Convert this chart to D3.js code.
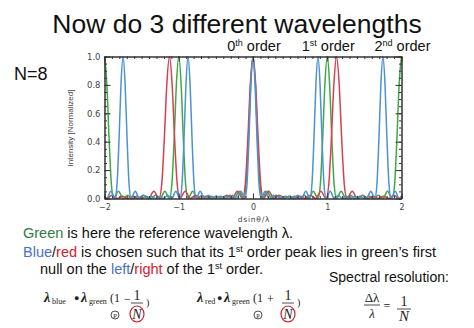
<!DOCTYPE html>
<html><head><meta charset="utf-8">
<script src="https://cdn.jsdelivr.net/npm/d3@7"></script>
<style>body{margin:0;background:#fff}svg{display:block}</style>
</head><body>
<svg id="c" width="474" height="328"></svg>
<script>
// ---- data ----
const xTicks = [-2, -1, 0, 1, 2];
const yTicks = [0, 0.2, 0.4, 0.6, 0.8, 1.0];
const orderLabels = [{x: 0, b: "0", s: "th"}, {x: 1, b: "1", s: "st"}, {x: 2, b: "2", s: "nd"}];

const greenPts = [
[-2,1],[-1.96875,.81],[-1.9375,.41],[-1.90625,.093],[-1.875,0],[-1.8125,.051],[-1.75,0],[-1.6875,.023],[-1.625,0],[-1.5625,.016],[-1.5,0],[-1.4375,.016],[-1.375,0],[-1.3125,.023],[-1.25,0],[-1.1875,.051],[-1.125,0],[-1.09375,.093],[-1.0625,.41],[-1.03125,.81],
[-1,1],[-0.96875,.81],[-0.9375,.41],[-0.90625,.093],[-0.875,0],[-0.8125,.051],[-0.75,0],[-0.6875,.023],[-0.625,0],[-0.5625,.016],[-0.5,0],[-0.4375,.016],[-0.375,0],[-0.3125,.023],[-0.25,0],[-0.1875,.051],[-0.125,0],[-0.09375,.093],[-0.0625,.41],[-0.03125,.81],
[0,1],[0.03125,.81],[0.0625,.41],[0.09375,.093],[0.125,0],[0.1875,.051],[0.25,0],[0.3125,.023],[0.375,0],[0.4375,.016],[0.5,0],[0.5625,.016],[0.625,0],[0.6875,.023],[0.75,0],[0.8125,.051],[0.875,0],[0.90625,.093],[0.9375,.41],[0.96875,.81],
[1,1],[1.03125,.81],[1.0625,.41],[1.09375,.093],[1.125,0],[1.1875,.051],[1.25,0],[1.3125,.023],[1.375,0],[1.4375,.016],[1.5,0],[1.5625,.016],[1.625,0],[1.6875,.023],[1.75,0],[1.8125,.051],[1.875,0],[1.90625,.093],[1.9375,.41],[1.96875,.81],
[2,1]];

const bluePts = [
[-2,.016],[-1.96875,0],[-1.91406,.051],[-1.85938,0],[-1.83203,.093],[-1.80469,.41],[-1.77734,.81],
[-1.75,1],[-1.72266,.81],[-1.69531,.41],[-1.66797,.093],[-1.64063,0],[-1.58594,.051],[-1.53125,0],[-1.47656,.023],[-1.42188,0],[-1.36719,.016],[-1.3125,0],[-1.25781,.016],[-1.20313,0],[-1.14844,.023],[-1.09375,0],[-1.03906,.051],[-0.98438,0],[-0.95703,.093],[-0.92969,.41],[-0.90234,.81],
[-0.875,1],[-0.84766,.81],[-0.82031,.41],[-0.79297,.093],[-0.76563,0],[-0.71094,.051],[-0.65625,0],[-0.60156,.023],[-0.54688,0],[-0.49219,.016],[-0.4375,0],[-0.38281,.016],[-0.32813,0],[-0.27344,.023],[-0.21875,0],[-0.16406,.051],[-0.10938,0],[-0.08203,.093],[-0.05469,.41],[-0.02734,.81],
[0,1],[0.02734,.81],[0.05469,.41],[0.08203,.093],[0.10938,0],[0.16406,.051],[0.21875,0],[0.27344,.023],[0.32813,0],[0.38281,.016],[0.4375,0],[0.49219,.016],[0.54688,0],[0.60156,.023],[0.65625,0],[0.71094,.051],[0.76563,0],[0.79297,.093],[0.82031,.41],[0.84766,.81],
[0.875,1],[0.90234,.81],[0.92969,.41],[0.95703,.093],[0.98438,0],[1.03906,.051],[1.09375,0],[1.14844,.023],[1.20313,0],[1.25781,.016],[1.3125,0],[1.36719,.016],[1.42188,0],[1.47656,.023],[1.53125,0],[1.58594,.051],[1.64063,0],[1.66797,.093],[1.69531,.41],[1.72266,.81],
[1.75,1],[1.77734,.81],[1.80469,.41],[1.83203,.093],[1.85938,0],[1.91406,.051],[1.96875,0],[2,.016]];

const redPts = [
[-2,.016],[-1.96875,0],[-1.89844,.023],[-1.82813,0],[-1.75781,.016],[-1.6875,0],[-1.61719,.016],[-1.54688,0],[-1.47656,.023],[-1.40625,0],[-1.33594,.051],[-1.26563,0],[-1.23047,.093],[-1.19531,.41],[-1.16016,.81],
[-1.125,1],[-1.08984,.81],[-1.05469,.41],[-1.01953,.093],[-0.98438,0],[-0.91406,.051],[-0.84375,0],[-0.77344,.023],[-0.70313,0],[-0.63281,.016],[-0.5625,0],[-0.49219,.016],[-0.42188,0],[-0.35156,.023],[-0.28125,0],[-0.21094,.051],[-0.14063,0],[-0.10547,.093],[-0.07031,.41],[-0.03516,.81],
[0,1],[0.03516,.81],[0.07031,.41],[0.10547,.093],[0.14063,0],[0.21094,.051],[0.28125,0],[0.35156,.023],[0.42188,0],[0.49219,.016],[0.5625,0],[0.63281,.016],[0.70313,0],[0.77344,.023],[0.84375,0],[0.91406,.051],[0.98438,0],[1.01953,.093],[1.05469,.41],[1.08984,.81],
[1.125,1],[1.16016,.81],[1.19531,.41],[1.23047,.093],[1.26563,0],[1.33594,.051],[1.40625,0],[1.47656,.023],[1.54688,0],[1.61719,.016],[1.6875,0],[1.75781,.016],[1.82813,0],[1.89844,.023],[1.96875,0],[2,.016]];

const seriesList = [
  {name: "green", pts: greenPts, color: "#3fa845"},
  {name: "red", pts: redPts, color: "#d8404e"},
  {name: "blue", pts: bluePts, color: "#4b92d6"}
];

// ---- drawing ----
const svg = d3.select("#c");
const L = 104.5, R = 401.5, T = 56.5, B = 198.5;
const x = d3.scaleLinear().domain([-2, 2]).range([L, R]);
const y = d3.scaleLinear().domain([0, 1]).range([B, T]);
const sans = "Liberation Sans, Arial, sans-serif";

// Title
svg.append("text").attr("x", 237).attr("y", 33).attr("text-anchor", "middle")
  .attr("font-family", sans).attr("font-size", 26.5)
  .attr("fill", "#111").text("Now do 3 different wavelengths");

// order labels
orderLabels.forEach(o => {
  const t = svg.append("text").attr("x", x(o.x) + 1).attr("y", 51).attr("text-anchor", "middle")
    .attr("font-family", sans).attr("font-size", 14.5).attr("fill", "#111");
  t.append("tspan").text(o.b);
  t.append("tspan").attr("font-size", 9).attr("dy", -5).text(o.s);
  t.append("tspan").attr("dy", 5).text(" order");
});

svg.append("text").attr("x", 14).attr("y", 80)
  .attr("font-family", sans).attr("font-size", 18).attr("fill", "#111").text("N=8");

// series
const line = d3.line().x(d => x(d[0])).y(d => y(d[1])).curve(d3.curveMonotoneX);
const plotG = svg.append("g");
seriesList.forEach(s => {
  plotG.append("path").datum(s.pts).attr("d", line).attr("fill", "none")
    .attr("stroke", s.color).attr("stroke-width", 1.5).attr("stroke-linejoin", "round");
});

// axes (IDL style box with inward ticks)
const axCol = "#333";
const tickFont = "DejaVu Sans, sans-serif";
const xMinor = d3.range(-20, 21).map(i => i / 10);
const yMinor = d3.range(0, 21).map(i => i / 20);

function styleAxis(g) {
  g.select(".domain").attr("stroke", axCol).attr("stroke-width", 1);
  g.selectAll(".tick line").attr("stroke", axCol);
  g.selectAll("text").attr("font-family", tickFont).attr("font-size", 8.5).attr("fill", "#444");
}
// bottom
svg.append("g").attr("transform", `translate(0,${B})`)
  .call(d3.axisBottom(x).tickValues(xMinor).tickSize(-2.5).tickFormat("").tickSizeOuter(0)).call(styleAxis);
svg.append("g").attr("transform", `translate(0,${B})`)
  .call(d3.axisBottom(x).tickValues(xTicks).tickSize(-5).tickPadding(6).tickSizeOuter(0)
    .tickFormat(d => d < 0 ? "\u2212" + Math.abs(d) : String(d))).call(styleAxis)
  .selectAll("text").attr("font-size", 8);
// top
svg.append("g").attr("transform", `translate(0,${T})`)
  .call(d3.axisTop(x).tickValues(xMinor).tickSize(-2.5).tickFormat("").tickSizeOuter(0)).call(styleAxis);
svg.append("g").attr("transform", `translate(0,${T})`)
  .call(d3.axisTop(x).tickValues(xTicks).tickSize(-5).tickFormat("").tickSizeOuter(0)).call(styleAxis);
// left
svg.append("g").attr("transform", `translate(${L},0)`)
  .call(d3.axisLeft(y).tickValues(yMinor).tickSize(-2.5).tickFormat("").tickSizeOuter(0)).call(styleAxis);
svg.append("g").attr("transform", `translate(${L},0)`)
  .call(d3.axisLeft(y).tickValues(yTicks).tickSize(-6).tickPadding(4).tickSizeOuter(0)
    .tickFormat(d3.format(".1f"))).call(styleAxis);
// right
svg.append("g").attr("transform", `translate(${R},0)`)
  .call(d3.axisRight(y).tickValues(yMinor).tickSize(-2.5).tickFormat("").tickSizeOuter(0)).call(styleAxis);
svg.append("g").attr("transform", `translate(${R},0)`)
  .call(d3.axisRight(y).tickValues(yTicks).tickSize(-6).tickFormat("").tickSizeOuter(0)).call(styleAxis);

// axis titles
svg.append("text").attr("transform", `translate(73,128) rotate(-90)`).attr("text-anchor", "middle")
  .attr("font-family", sans).attr("font-size", 8).attr("fill", "#444")
  .text("Intensity [Normalized]");
svg.append("text").attr("x", 254).attr("y", 222).attr("text-anchor", "middle")
  .attr("font-family", tickFont).attr("font-size", 7.5).attr("letter-spacing", 0.8).attr("fill", "#444")
  .text("dsin\u03B8/\u03BB");

// explanatory text
function para(xx, yy, parts, size) {
  const t = svg.append("text").attr("x", xx).attr("y", yy).attr("font-family", sans)
    .attr("font-size", size || 14.5).attr("fill", "#111");
  parts.forEach(p => {
    const s = t.append("tspan").text(p.t);
    if (p.c) s.attr("fill", p.c);
    if (p.sup) { s.attr("font-size", 9).attr("dy", -5); }
    if (p.down) s.attr("dy", 5);
  });
  return t;
}
para(23, 238, [{t: "Green", c: "#2f7d3f"}, {t: " is here the reference wavelength \u03BB."}]);
para(23, 257, [{t: "Blue", c: "#4a6fd0"}, {t: "/"}, {t: "red", c: "#d3202e"}, {t: " is chosen such that its 1"}, {t: "st", sup: true}, {t: " order peak lies in green\u2019s first", down: true}]);
para(40, 274, [{t: "null on the "}, {t: "left", c: "#4a6fd0"}, {t: "/"}, {t: "right", c: "#d3202e"}, {t: " of the 1"}, {t: "st", sup: true}, {t: " order.", down: true}]);
para(329, 282, [{t: "Spectral resolution:"}], 14);

// formulas
const ser = "Liberation Serif, DejaVu Serif, serif";
function formula(p) {
  const g = svg.append("g").attr("font-family", ser).attr("fill", "#222");
  g.append("text").attr("x", p.lam1).attr("y", 302).attr("font-size", 14).attr("font-style", "italic").attr("font-weight", "bold").text("\u03BB");
  g.append("text").attr("x", p.lam1 + 8).attr("y", 304).attr("font-size", 8).text(p.sub);
  g.append("text").attr("x", p.dot).attr("y", 301).attr("font-size", 9).text("\u25CF");
  g.append("text").attr("x", p.dot + 7).attr("y", 302).attr("font-size", 14).attr("font-style", "italic").attr("font-weight", "bold").text("\u03BB");
  g.append("text").attr("x", p.dot + 15).attr("y", 304).attr("font-size", 8).text("green");
  g.append("text").attr("x", p.paren).attr("y", 302).attr("font-size", 12).text("(1");
  g.append("circle").attr("cx", p.paren + 5).attr("cy", 315).attr("r", 4).attr("fill", "none").attr("stroke", "#222").attr("stroke-width", 0.8);
  g.append("text").attr("x", p.paren + 5).attr("y", 317.5).attr("font-size", 6.5).attr("text-anchor", "middle").text("P");
  g.append("text").attr("x", p.paren + 14).attr("y", 303).attr("font-size", 12).text(p.sign);
  g.append("text").attr("x", p.frac).attr("y", 300).attr("font-size", 14).attr("text-anchor", "middle").text("1");
  g.append("line").attr("x1", p.frac - 6).attr("x2", p.frac + 6).attr("y1", 303).attr("y2", 303).attr("stroke", "#222").attr("stroke-width", 0.8);
  g.append("text").attr("x", p.frac).attr("y", 319).attr("font-size", 14).attr("font-style", "italic").attr("text-anchor", "middle").text("N");
  g.append("ellipse").attr("cx", p.frac).attr("cy", 314).attr("rx", 7).attr("ry", 8).attr("fill", "none").attr("stroke", "#c8202a").attr("stroke-width", 1.2);
  g.append("text").attr("x", p.frac + 9).attr("y", 306).attr("font-size", 10).text(")");
}
formula({lam1: 44, sub: "blue", dot: 74, paren: 110, sign: "\u2212", frac: 137});
formula({lam1: 197, sub: "red", dot: 217, paren: 253, sign: "+", frac: 288});

const g3 = svg.append("g").attr("font-family", ser).attr("fill", "#222");
g3.append("text").attr("x", 372).attr("y", 302).attr("font-size", 13).attr("text-anchor", "middle").text("\u0394\u03BB");
g3.append("line").attr("x1", 364).attr("x2", 380).attr("y1", 305).attr("y2", 305).attr("stroke", "#222").attr("stroke-width", 0.8);
g3.append("text").attr("x", 372).attr("y", 318).attr("font-size", 13).attr("font-style", "italic").attr("text-anchor", "middle").text("\u03BB");
g3.append("text").attr("x", 387).attr("y", 310).attr("font-size", 12).attr("text-anchor", "middle").text("=");
g3.append("text").attr("x", 404).attr("y", 306).attr("font-size", 14).attr("text-anchor", "middle").text("1");
g3.append("line").attr("x1", 397).attr("x2", 411).attr("y1", 309).attr("y2", 309).attr("stroke", "#222").attr("stroke-width", 0.8);
g3.append("text").attr("x", 404).attr("y", 321).attr("font-size", 15).attr("font-style", "italic").attr("text-anchor", "middle").text("N");
</script>
</body></html>
